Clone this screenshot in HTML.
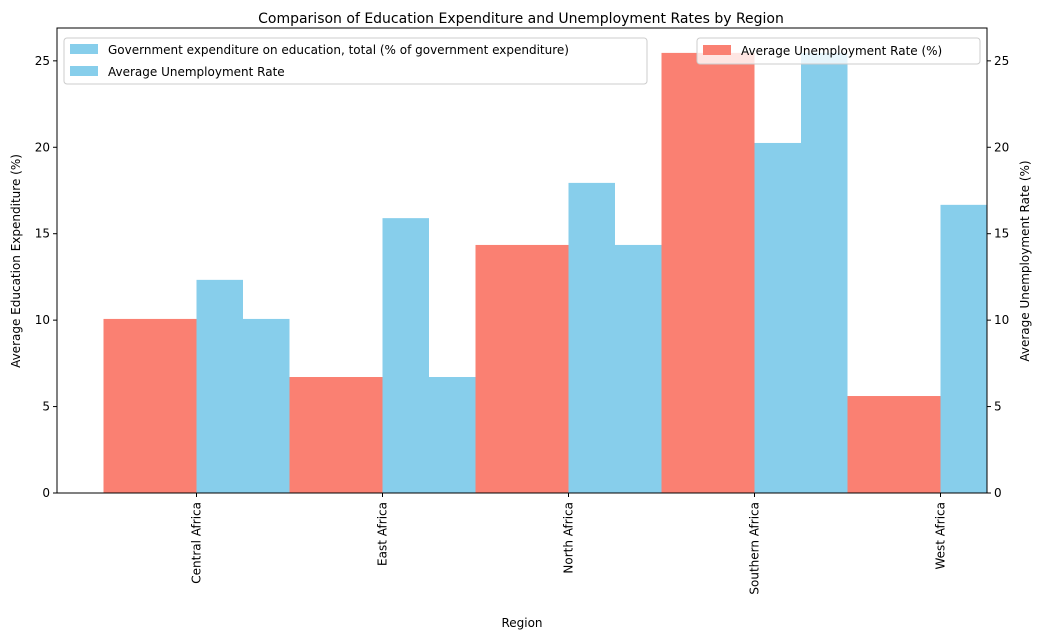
<!DOCTYPE html>
<html><head><meta charset="utf-8"><style>
html,body{margin:0;padding:0;background:#fff;width:1043px;height:640px;overflow:hidden}
svg{display:block}
svg text{font-family:"DejaVu Sans","Liberation Sans",sans-serif;fill:#000}
</style></head><body>
<svg id="c" width="1043" height="640" xmlns="http://www.w3.org/2000/svg"></svg>
<script>
const regions=["Central Africa","East Africa","North Africa","Southern Africa","West Africa"];
const eduValues=[12.33,15.9,17.94,20.25,16.67];
const unempValues=[10.07,6.71,14.35,25.46,5.61];
const yTicks=[0,5,10,15,20,25];
const svg=document.getElementById('c');
const NS="http://www.w3.org/2000/svg";
const L=57,R=987,T=28,B=493,X0=-0.75,X1=4.25,YMAX=26.9;
const xs=v=>L+(v-X0)/(X1-X0)*(R-L);
const ys=v=>B-v/YMAX*(B-T);
function el(t,a,txt){const e=document.createElementNS(NS,t);for(const k in a)e.setAttribute(k,a[k]);if(txt!==undefined)e.textContent=txt;svg.appendChild(e);return e;}
const clip=el('clipPath',{id:'pc'});const cr=document.createElementNS(NS,'rect');cr.setAttribute('x',L);cr.setAttribute('y',T);cr.setAttribute('width',R-L);cr.setAttribute('height',B-T);clip.appendChild(cr);
regions.forEach((r,i)=>{
 let b=el('rect',{x:xs(i),y:ys(eduValues[i]),width:xs(i+0.25)-xs(i),height:B-ys(eduValues[i]),fill:'#87ceeb','clip-path':'url(#pc)'});
 
 b=el('rect',{x:xs(i+0.25),y:ys(unempValues[i]),width:xs(i+0.5)-xs(i+0.25),height:B-ys(unempValues[i]),fill:'#87ceeb','clip-path':'url(#pc)'});
 
});
// left legend (below red bars)
el('rect',{x:64,y:38,width:583,height:46,fill:'#fff','fill-opacity':0.8,stroke:'#ccc',rx:3});
el('rect',{x:70,y:44,width:28,height:10,fill:'#87ceeb'});
el('text',{x:108,y:54,'font-size':12},'Government expenditure on education, total (% of government expenditure)');
el('rect',{x:70,y:66,width:28,height:10,fill:'#87ceeb'});
el('text',{x:108,y:76,'font-size':12},'Average Unemployment Rate');
regions.forEach((r,i)=>{
 const b=el('rect',{x:xs(i-0.5),y:ys(unempValues[i]),width:xs(i)-xs(i-0.5),height:B-ys(unempValues[i]),fill:'#fa8072','clip-path':'url(#pc)'});
 
 el('line',{x1:xs(i),x2:xs(i),y1:B,y2:B+4,stroke:'#000'});
 const t=el('text',{x:0,y:0,'font-size':12,'text-anchor':'end',transform:`translate(${xs(i)+4},${B+9}) rotate(-90)`},r);
 
});
yTicks.forEach(v=>{
 el('line',{x1:L-4,x2:L,y1:ys(v),y2:ys(v),stroke:'#000'});
 el('text',{x:L-7,y:ys(v)+4,'font-size':12,'text-anchor':'end'},v);
 el('line',{x1:R,x2:R+4,y1:ys(v),y2:ys(v),stroke:'#000'});
 el('text',{x:R+7,y:ys(v)+4,'font-size':12},v);
});
el('rect',{x:L,y:T,width:R-L,height:B-T,fill:'none',stroke:'#000','stroke-width':1});
el('text',{x:521,y:23,'font-size':14,'text-anchor':'middle'},'Comparison of Education Expenditure and Unemployment Rates by Region');
el('text',{x:522,y:627,'font-size':12,'text-anchor':'middle'},'Region');
el('text',{x:0,y:0,'font-size':12,'text-anchor':'middle',transform:'translate(20,261) rotate(-90)'},'Average Education Expenditure (%)');
el('text',{x:0,y:0,'font-size':12,'text-anchor':'middle',transform:'translate(1029,261) rotate(-90)'},'Average Unemployment Rate (%)');
el('rect',{x:697,y:38,width:283,height:26,fill:'#fff','fill-opacity':0.8,stroke:'#ccc',rx:3});
el('rect',{x:703,y:45,width:28,height:10,fill:'#fa8072'});
el('text',{x:741,y:55,'font-size':12},'Average Unemployment Rate (%)');
</script>
</body></html>
